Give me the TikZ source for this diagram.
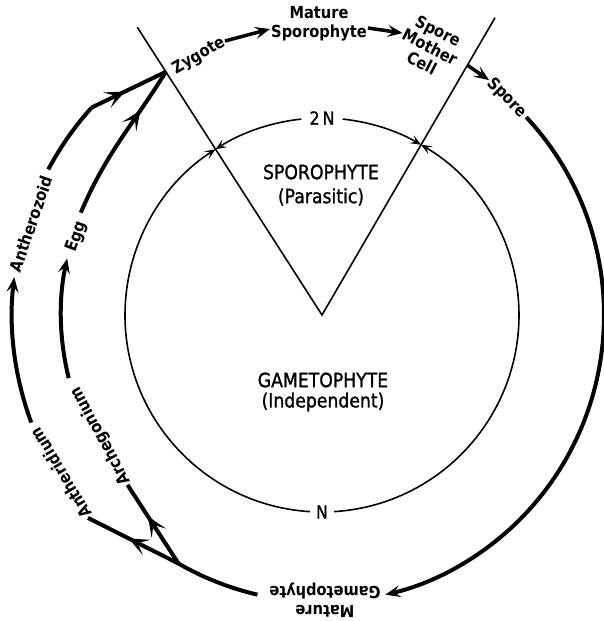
\documentclass[tikz,border=0pt]{standalone}
\usepackage{fontspec}
\setmainfont{DejaVu Sans}[FakeStretch=0.88]
\newfontfamily\midfont{DejaVu Sans}[FakeStretch=0.88,FakeBold=1.2]
\usetikzlibrary{arrows.meta,decorations.markings}
\begin{document}
\begin{tikzpicture}[x=1pt,y=1pt,
  thinline/.style={line width=1.6pt},
  cyc/.style={line width=4pt},
  shortcyc/.style={line width=3.5pt},
  tipA/.style={-{Stealth[length=15pt,width=12pt,inset=6pt]}},
  smalltip/.style={-{Stealth[length=11pt,width=9pt,inset=5pt]}},
  midarrow/.style={postaction={decorate},decoration={markings,mark=at position #1 with {\arrow{Stealth[length=20pt,width=17pt,inset=10pt]}}}},
  lab/.style={font=\fontsize{16.6}{19}\selectfont\bfseries, inner sep=1pt, align=center},
  big/.style={font=\fontsize{19.6}{23}\selectfont\midfont, inner sep=1pt},
  ]
\useasboundingbox (-322,-306) rectangle (281,315);
% V lines
\coordinate (O) at (0,0);
\coordinate (VL) at (122.7:342);
\coordinate (VR) at (59.8:344);
\draw[thinline] (VL) -- (O) -- (VR);
% inner circle
\node[font=\fontsize{18}{20}\selectfont\midfont, inner sep=1pt] (twoN) at (0,197) {2\,N};
\node[font=\fontsize{18}{20}\selectfont\midfont, inner sep=1pt] (oneN) at (0,-197) {N};
\coordinate (c1) at (96:197);
\coordinate (c2) at (84:197);
\coordinate (c3) at (266.5:197);
\coordinate (c4) at (273.5:197);
\draw[thinline,smalltip] (c1) arc[start angle=96,end angle=122.7,radius=197];
\draw[thinline,smalltip] (c2) arc[start angle=84,end angle=59.8,radius=197];
\draw[thinline,smalltip] (c3) arc[start angle=266.5,end angle=122.7,radius=197];
\draw[thinline,smalltip] (c4) arc[start angle=273.5,end angle=419.8,radius=197];
% centre texts
\node[big] (spo) at (-1,143) {SPOROPHYTE};
\node[big] (par) at (-1,118) {(Parasitic)};
\node[big] (gam) at (1,-65) {GAMETOPHYTE};
\node[big] (ind) at (1,-87) {(Independent)};
% outer cycle labels
\node[lab,rotate=30] (zyg) at (-123,259) {Zygote};
\node[lab] (ms) at (-3,291) {Mature\\Sporophyte};
\node[lab,rotate=-27,font=\fontsize{16.6}{18}\selectfont\bfseries] (smc) at (108,268) {Spore\\Mother\\Cell};
\node[lab,rotate=-45] (spore) at (185,217) {Spore};
\node[lab,rotate=180] (mg) at (3,-285) {Mature\\Gametophyte};
\node[lab,rotate=121] (anth) at (-261,-158) {Antheridium};
\node[lab,rotate=118.5] (arch) at (-221,-121) {Archegonium};
\node[lab,rotate=71] (azoid) at (-291,91) {Antherozoid};
\node[lab,rotate=70] (egg) at (-245,78) {Egg};
% outer cycle connectors
\coordinate (Z0) at (122.7:289);
\coordinate (VRo) at (59.8:289);
\draw[shortcyc,tipA] (zyg.east) -- ([yshift=-5pt]ms.west);
\draw[shortcyc,tipA] ([yshift=-4pt]ms.east) -- (smc.west);
\draw[shortcyc,tipA] (VRo) -- (spore.west);
\coordinate (sp1) at ({282*cos(43.6)},{287*sin(43.6)});
\draw[cyc,tipA] (sp1) arc[start angle=43.6,end angle=-77,x radius=282,y radius=287];
\coordinate (mg1) at (257:287);
\coordinate (J) at (240:287);
\draw[cyc] (mg1) arc[start angle=257,end angle=240,radius=287];
\draw[cyc,midarrow=0.55] (J) -- (anth.west);
\draw[cyc,midarrow=0.6] (J) -- (arch.west);
\coordinate (a1) at (200.3:310);
\draw[cyc,tipA] (a1) arc[start angle=200.3,end angle=173,radius=310];
\coordinate (a3) at (152:310);
\coordinate (a4) at (138:310);
\draw[cyc] (a3) arc[start angle=152,end angle=138,radius=310];
\draw[cyc,midarrow=0.45] (a4) -- (Z0);
\coordinate (e1) at (194:261);
\draw[cyc,tipA] (e1) arc[start angle=194,end angle=167.5,radius=261];
\coordinate (e3) at (157:262);
\draw[cyc,midarrow=0.72] (e3) to[out=67,in=238] (Z0);
\end{tikzpicture}
\end{document}
